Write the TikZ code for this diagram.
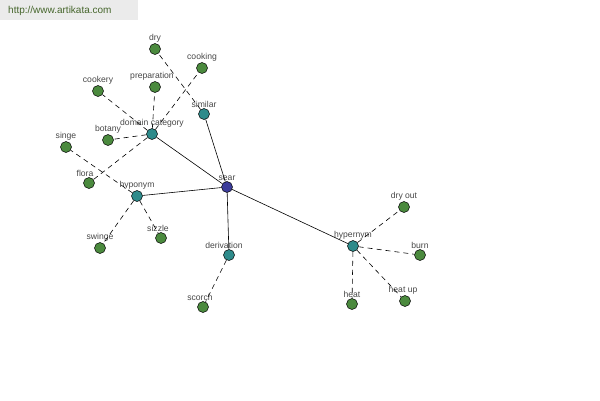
\documentclass[tikz,border=0pt]{standalone}
\usepackage{fontspec}
\setmainfont{Liberation Sans}
\usetikzlibrary{positioning}
\definecolor{hubblue}{HTML}{3C3C9A}
\definecolor{relteal}{HTML}{2E8B8B}
\definecolor{wordgreen}{HTML}{4B8A3E}
\definecolor{markgray}{HTML}{EBEBEB}
\definecolor{marktext}{HTML}{46662C}

\begin{document}
\begin{tikzpicture}[x=1pt, y=-1pt,
    font=\fontsize{8.6}{9}\selectfont,
    every label/.style={text=black!72, inner sep=0.5pt},
    word/.style={circle, draw=black, line width=0.5pt, minimum size=11pt, inner sep=0pt, fill=wordgreen},
    rel/.style={word, fill=relteal},
    hub/.style={word, fill=hubblue},
    solid link/.style={draw, line width=0.6pt},
    weak link/.style={draw, line width=0.6pt, dash pattern=on 5pt off 4pt}
]
    \useasboundingbox (0,0) rectangle (600,400);
    % site mark
    \fill[markgray] (0,0) rectangle (138,20);
    \node[anchor=west, inner sep=0pt, text=marktext, font=\fontsize{10}{11}\selectfont] (mark) at (8,10.5) {http://www.artikata.com};

    \node[hub, label=above:sear] (sear) at (227,187) {};
    \node[rel, label=above:domain category] (dom) at (152,134) {};
    \node[rel, label=above:similar] (sim) at (204,114) {};
    \node[rel, label=above:hyponym] (hypo) at (137,196) {};
    \node[rel, label={[xshift=-5pt]above:derivation}] (deriv) at (229,255) {};
    \node[rel, label=above:hypernym] (hyper) at (353,246) {};

    \node[word, label=above:dry] (dry) at (155,49) {};
    \node[word, label=above:cooking] (cooking) at (202,68) {};
    \node[word, label={[xshift=-3pt]above:preparation}] (prep) at (155,87) {};
    \node[word, label=above:cookery] (cookery) at (98,91) {};
    \node[word, label=above:botany] (botany) at (108,140) {};
    \node[word, label=above:singe] (singe) at (66,147) {};
    \node[word, label={[xshift=-4pt]above:flora}] (flora) at (89,183) {};
    \node[word, label=above:swinge] (swinge) at (100,248) {};
    \node[word, label={[xshift=-3pt]above:sizzle}] (sizzle) at (161,238) {};
    \node[word, label={[xshift=-3pt]above:scorch}] (scorch) at (203,307) {};
    \node[word, label=above:dry out] (dryout) at (404,207) {};
    \node[word, label=above:burn] (burn) at (420,255) {};
    \node[word, label=above:heat] (heat) at (352,304) {};
    \node[word, label={[xshift=-2pt]above:heat up}] (heatup) at (405,301) {};

    % relations of the hub
    \draw[solid link] (sear) -- (dom);
    \draw[solid link] (sear) -- (sim);
    \draw[solid link] (sear) -- (hypo);
    \draw[solid link] (sear) -- (deriv);
    \draw[solid link] (sear) -- (hyper);

    % words under each relation
    \draw[weak link] (sim) -- (dry);
    \draw[weak link] (dom) -- (cooking);
    \draw[weak link] (dom) -- (prep);
    \draw[weak link] (dom) -- (cookery);
    \draw[weak link] (dom) -- (botany);
    \draw[weak link] (dom) -- (flora);
    \draw[weak link] (hypo) -- (singe);
    \draw[weak link] (hypo) -- (swinge);
    \draw[weak link] (hypo) -- (sizzle);
    \draw[weak link] (deriv) -- (scorch);
    \draw[weak link] (hyper) -- (dryout);
    \draw[weak link] (hyper) -- (burn);
    \draw[weak link] (hyper) -- (heat);
    \draw[weak link] (hyper) -- (heatup);
\end{tikzpicture}
\end{document}
